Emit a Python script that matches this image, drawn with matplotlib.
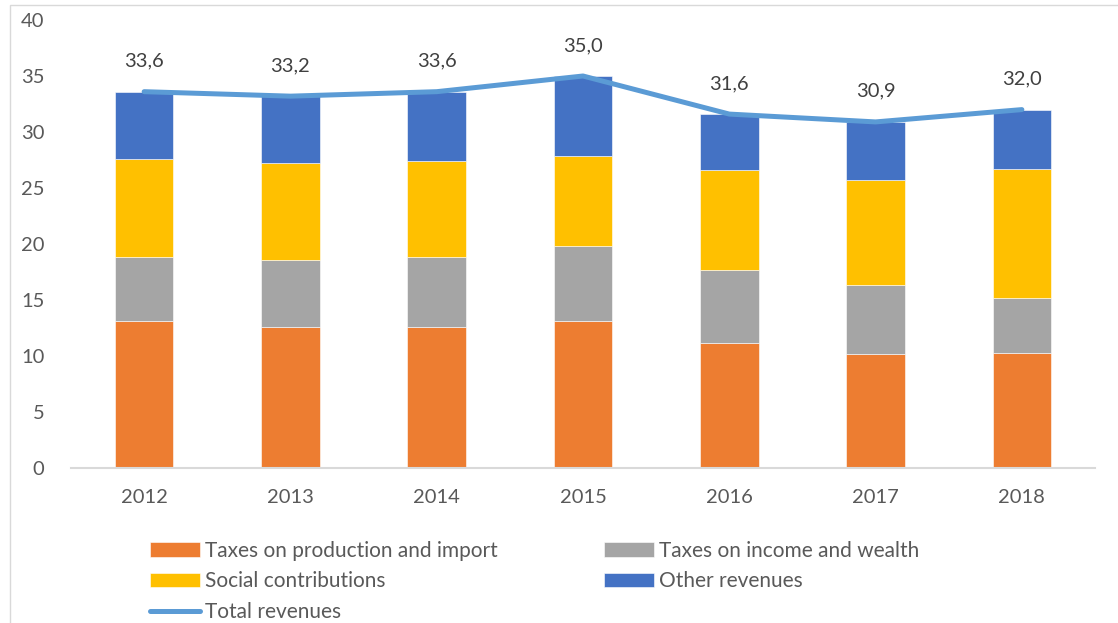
import matplotlib.pyplot as plt
import numpy as np
from matplotlib.patches import Rectangle

plt.rcParams['font.family'] = ['Lato', 'DejaVu Sans']

years = ['2012', '2013', '2014', '2015', '2016', '2017', '2018']
production = [13.1, 12.6, 12.6, 13.1, 11.2, 10.2, 10.3]
income = [5.7, 6.0, 6.2, 6.7, 6.5, 6.1, 4.9]
social = [8.8, 8.6, 8.6, 8.1, 8.9, 9.4, 11.5]
other = [6.0, 6.0, 6.2, 7.1, 5.0, 5.2, 5.3]
total = [33.6, 33.2, 33.6, 35.0, 31.6, 30.9, 32.0]

fig = plt.figure(figsize=(11.18, 6.23), dpi=100)
ax = fig.add_axes([71/1118, 155/623, 1024/1118, 448/623])

x = np.arange(len(years))
w = 0.4
bottom = np.zeros(len(years))
bars = []
for vals, col, lab in [(production, '#ED7D31', 'Taxes on production and import'),
                       (income, '#A5A5A5', 'Taxes on income and wealth'),
                       (social, '#FFC000', 'Social contributions'),
                       (other, '#4472C4', 'Other revenues')]:
    b = ax.bar(x, vals, w, bottom=bottom, color=col, label=lab,
               edgecolor='white', linewidth=0.4, zorder=2)
    bars.append(b)
    bottom += np.array(vals)

line, = ax.plot(x, total, color='#5B9BD5', lw=3.6, solid_capstyle='round',
                solid_joinstyle='round', label='Total revenues', zorder=3)

for xi, t in zip(x, total):
    ax.annotate(f'{t:.1f}'.replace('.', ','), (xi, t), xytext=(0, 22),
                textcoords='offset points', ha='center', va='center',
                fontsize=14.5, color='#404040')

ax.set_xlim(-0.5, len(years) - 0.5)
ax.set_ylim(0, 40)
ax.set_yticks(range(0, 41, 5))
ax.set_xticks(x)
ax.set_xticklabels(years)
ax.tick_params(axis='both', length=0, labelsize=14.5, colors='#595959')
ax.tick_params(axis='y', pad=19)
ax.tick_params(axis='x', pad=15)
for s in ['top', 'right', 'left']:
    ax.spines[s].set_visible(False)
ax.spines['bottom'].set_color('#D9D9D9')
ax.spines['bottom'].set_linewidth(1.5)

handles = [bars[0], bars[2], line, bars[1], bars[3]]
labels = [h.get_label() for h in handles]
fig.legend(handles, labels, ncol=2, loc='upper left',
           bbox_to_anchor=(150/1118, 1 - 541/623), frameon=False,
           fontsize=15, labelcolor='#595959', handlelength=2.4,
           handletextpad=0.25, labelspacing=0.5, columnspacing=5.1,
           borderpad=0, borderaxespad=0)

# chart area frame (partly off the image)
fig.patches.append(Rectangle((10/1118, -0.1), 1.2, 1.1 - 5/623,
                             transform=fig.transFigure, fill=False,
                             edgecolor='#D9D9D9', lw=1))

fig.savefig('out.png', dpi=100)
